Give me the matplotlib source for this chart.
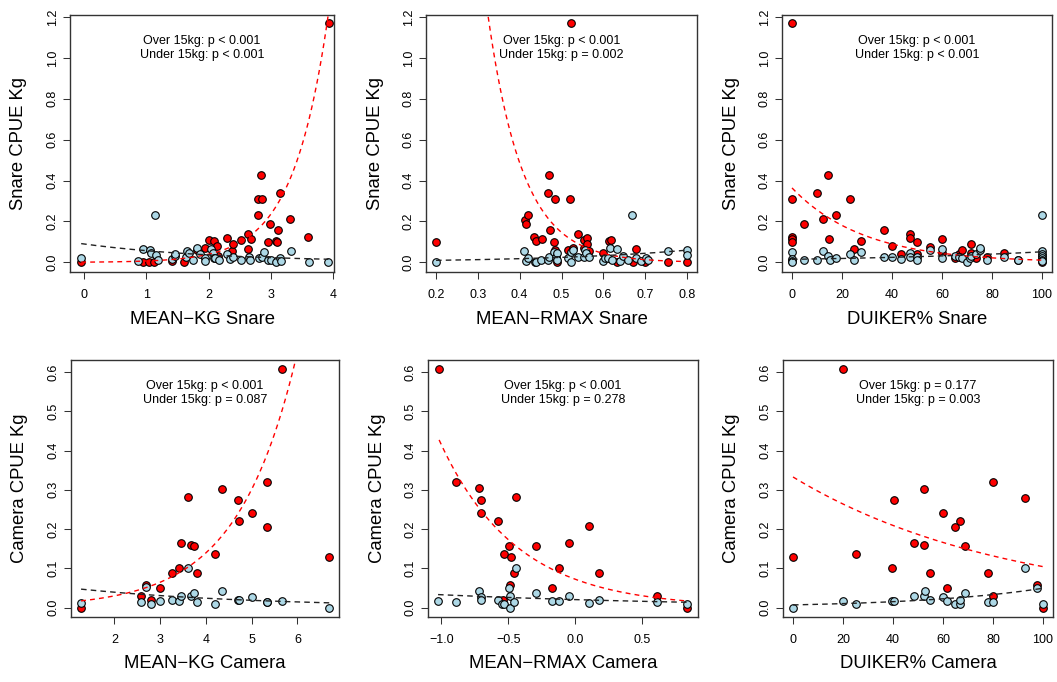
import numpy as np
import matplotlib.pyplot as plt

plt.rcParams["font.family"] = ["Liberation Sans", "DejaVu Sans"]

# ---- data ----
# MEAN-KG Snare
kg_snare_over_x = [-0.05, 0.95, 1.04, 1.13, 1.42, 1.61, 1.82, 1.95, 2.01, 2.09, 2.13, 2.15, 2.29, 2.38, 2.39,
                   2.52, 2.63, 2.64, 2.68, 2.79, 2.80, 2.84, 2.86, 2.95, 2.99, 3.08, 3.10, 3.12, 3.15, 3.31,
                   3.60, 3.94]
kg_snare_over_y = [0.0, 0.0, 0.0, 0.0, 0.008, 0.0, 0.06, 0.07, 0.11, 0.107, 0.08, 0.03, 0.118, 0.057, 0.09,
                   0.11, 0.14, 0.064, 0.115, 0.31, 0.23, 0.425, 0.31, 0.10, 0.19, 0.105, 0.098, 0.16, 0.34, 0.21,
                   0.125, 1.17]
kg_snare_under_x = [-0.05, 0.87, 0.94, 1.05, 1.07, 1.14, 1.16, 1.19, 1.42, 1.46, 1.46, 1.63, 1.66, 1.68, 1.75,
                    1.81, 1.87, 1.94, 1.95, 2.04, 2.07, 2.09, 2.11, 2.17, 2.29, 2.34, 2.40, 2.53, 2.65, 2.67,
                    2.82, 2.86, 2.89, 2.96, 3.01, 3.09, 3.15, 3.17, 3.32, 3.62, 3.93]
kg_snare_under_y = [0.023, 0.008, 0.067, 0.06, 0.045, 0.233, 0.038, 0.012, 0.016, 0.03, 0.043, 0.025, 0.056,
                    0.046, 0.013, 0.072, 0.04, 0.02, 0.007, 0.064, 0.046, 0.023, 0.023, 0.013, 0.043, 0.016,
                    0.025, 0.013, 0.026, 0.013, 0.023, 0.026, 0.05, 0.011, 0.01, 0.0, 0.023, 0.007, 0.057,
                    0.0, 0.0]

# MEAN-RMAX Snare
rmax_snare_over_x = [0.2, 0.413, 0.415, 0.42, 0.435, 0.44, 0.453, 0.468, 0.469, 0.473, 0.483, 0.484, 0.485,
                     0.49, 0.516, 0.52, 0.523, 0.528, 0.539, 0.553, 0.553, 0.56, 0.56, 0.566, 0.6, 0.614, 0.619,
                     0.633, 0.67, 0.677, 0.7, 0.754, 0.8]
rmax_snare_over_y = [0.10, 0.208, 0.19, 0.23, 0.125, 0.107, 0.115, 0.34, 0.425, 0.16, 0.10, 0.31, 0.062, 0.0,
                     0.06, 0.31, 1.17, 0.072, 0.14, 0.11, 0.072, 0.118, 0.089, 0.056, 0.046, 0.105, 0.108, 0.0,
                     0.0, 0.067, 0.0, 0.0, 0.0]
rmax_snare_under_x = [0.2, 0.41, 0.415, 0.42, 0.437, 0.44, 0.452, 0.467, 0.471, 0.483, 0.488, 0.49, 0.489,
                      0.515, 0.522, 0.528, 0.523, 0.54, 0.553, 0.555, 0.558, 0.566, 0.6, 0.604, 0.612, 0.617,
                      0.62, 0.633, 0.639, 0.648, 0.658, 0.668, 0.677, 0.691, 0.701, 0.706, 0.755, 0.8, 0.8]
rmax_snare_under_y = [0.0, 0.057, 0.007, 0.02, 0.0, 0.0, 0.013, 0.011, 0.026, 0.052, 0.026, 0.046, 0.011,
                      0.023, 0.049, 0.06, 0.0, 0.026, 0.025, 0.06, 0.046, 0.026, 0.007, 0.02, 0.02, 0.07, 0.011,
                      0.067, 0.007, 0.03, 0.011, 0.233, 0.023, 0.007, 0.02, 0.011, 0.056, 0.062, 0.036]

# DUIKER% Snare
duiker_snare_over_x = [0, 0, 0, 0, 0, 4.7, 9.8, 12.5, 14.4, 14.9, 17.6, 23, 24.6, 27.4, 36.6, 40, 43.6, 47.1,
                       47.1, 50, 50, 55.3, 60, 60, 65, 66.7, 68, 71.5, 71.5, 73.4, 77.9, 84.7, 90.3, 100]
duiker_snare_over_y = [1.17, 0.31, 0.125, 0.113, 0.10, 0.19, 0.34, 0.21, 0.425, 0.115, 0.233, 0.31, 0.066,
                       0.107, 0.16, 0.079, 0.043, 0.14, 0.118, 0.10, 0.043, 0.075, 0.113, 0.048, 0.02, 0.04,
                       0.06, 0.09, 0.046, 0.02, 0.028, 0.045, 0.01, 0.0]
duiker_snare_under_x = [0, 0, 0, 0, 4.7, 9.8, 12.5, 14.4, 15.2, 17.6, 23, 24.6, 27.4, 36.6, 40, 43.6, 47.1,
                        47.1, 50, 50, 55.3, 60, 60, 65, 66.7, 68, 69.9, 71.1, 71.5, 73.4, 75.2, 75.2, 77.9,
                        84.7, 90.3, 100, 100, 100, 100, 100, 100, 100]
duiker_snare_under_y = [0.052, 0.015, 0.007, 0.0, 0.01, 0.011, 0.057, 0.03, 0.013, 0.021, 0.04, 0.011, 0.049,
                        0.025, 0.025, 0.018, 0.044, 0.026, 0.026, 0.01, 0.062, 0.066, 0.023, 0.03, 0.026, 0.023,
                        0.003, 0.02, 0.03, 0.04, 0.06, 0.072, 0.013, 0.026, 0.013, 0.23, 0.055, 0.04, 0.03,
                        0.02, 0.01, 0.005]

# MEAN-KG Camera
kg_camera_over_x = [1.27, 2.57, 2.68, 2.81, 2.99, 3.26, 3.41, 3.45, 3.60, 3.68, 3.73, 3.80, 4.20, 4.35, 4.71,
                    4.73, 5.00, 5.33, 5.34, 5.67, 6.70]
kg_camera_over_y = [0.0, 0.03, 0.058, 0.02, 0.05, 0.087, 0.10, 0.165, 0.281, 0.159, 0.156, 0.088, 0.137, 0.303,
                    0.275, 0.221, 0.241, 0.321, 0.206, 0.608, 0.13]
kg_camera_under_x = [1.27, 2.57, 2.68, 2.81, 2.99, 3.26, 3.41, 3.45, 3.60, 3.68, 3.73, 3.80, 4.20, 4.35, 4.71,
                     4.73, 5.00, 5.33, 5.34, 5.67, 6.70]
kg_camera_under_y = [0.011, 0.015, 0.052, 0.009, 0.017, 0.02, 0.017, 0.03, 0.102, 0.03, 0.037, 0.015, 0.01,
                     0.043, 0.019, 0.02, 0.027, 0.015, 0.013, 0.016, 0.0]

# MEAN-RMAX Camera
rmax_camera_over_x = [-1.017, -0.893, -0.721, -0.704, -0.704, -0.579, -0.544, -0.532, -0.494, -0.49, -0.484,
                      -0.46, -0.44, -0.293, -0.173, -0.126, -0.049, 0.10, 0.178, 0.609, 0.83]
rmax_camera_over_y = [0.607, 0.321, 0.304, 0.274, 0.241, 0.22, 0.019, 0.137, 0.158, 0.058, 0.129, 0.088, 0.281,
                      0.157, 0.05, 0.10, 0.164, 0.207, 0.087, 0.03, 0.0]
rmax_camera_under_x = [-1.025, -0.893, -0.721, -0.704, -0.704, -0.579, -0.549, -0.532, -0.494, -0.49, -0.487,
                       -0.457, -0.44, -0.293, -0.173, -0.126, -0.049, 0.10, 0.178, 0.609, 0.83]
rmax_camera_under_y = [0.017, 0.014, 0.043, 0.027, 0.02, 0.02, 0.009, 0.009, 0.051, 0.03, 0.0, 0.015, 0.102,
                       0.036, 0.016, 0.017, 0.029, 0.011, 0.019, 0.015, 0.01]

# DUIKER% Camera
duiker_camera_over_x = [0, 20, 25.1, 39.5, 40.5, 48.3, 52.2, 52.3, 54.6, 60, 61.6, 64.7, 66.7, 68.7, 77.9,
                        79.9, 80.1, 92.8, 97.4, 100]
duiker_camera_over_y = [0.129, 0.608, 0.137, 0.10, 0.274, 0.164, 0.159, 0.302, 0.087, 0.241, 0.05, 0.206,
                        0.221, 0.156, 0.088, 0.321, 0.03, 0.28, 0.057, 0.0]
duiker_camera_under_x = [0, 20, 25.1, 39.5, 40.5, 48.3, 52.2, 52.6, 54.6, 60, 61.6, 64.7, 66.7, 66.7, 68.7,
                         77.9, 80.1, 92.8, 97.4, 100]
duiker_camera_under_y = [0.0, 0.016, 0.009, 0.017, 0.018, 0.029, 0.029, 0.043, 0.019, 0.026, 0.016, 0.01,
                         0.01, 0.02, 0.036, 0.015, 0.015, 0.102, 0.051, 0.01]

# fitted curves y = exp(a + b*x): (a, b) for over / under 15kg
fit_over = [(-6.76, 1.77), (4.08, -12.0), (-1.01, -0.035), (-5.05, 0.77), (-2.63, -1.75), (-1.1, -0.0116)]
fit_under = [(-2.41, -0.45), (-5.2, 2.98), (-4.2, 0.0124), (-2.74, -0.25), (-3.9, -0.48), (-4.99, 0.0198)]

p_over = ["p < 0.001", "p < 0.001", "p < 0.001", "p < 0.001", "p < 0.001", "p = 0.177"]
p_under = ["p < 0.001", "p = 0.002", "p < 0.001", "p = 0.087", "p = 0.278", "p = 0.003"]

x_labels = ["MEAN\u2212KG Snare", "MEAN\u2212RMAX Snare", "DUIKER% Snare",
            "MEAN\u2212KG Camera", "MEAN\u2212RMAX Camera", "DUIKER% Camera"]
y_labels = ["Snare CPUE Kg"] * 3 + ["Camera CPUE Kg"] * 3

x_ticks = [[0, 1, 2, 3, 4], [0.2, 0.3, 0.4, 0.5, 0.6, 0.7, 0.8], [0, 20, 40, 60, 80, 100],
           [2, 3, 4, 5, 6], [-1.0, -0.5, 0.0, 0.5], [0, 20, 40, 60, 80, 100]]
y_ticks_snare = [0.0, 0.2, 0.4, 0.6, 0.8, 1.0, 1.2]
y_ticks_camera = [0.0, 0.1, 0.2, 0.3, 0.4, 0.5, 0.6]

over_pts = [(kg_snare_over_x, kg_snare_over_y), (rmax_snare_over_x, rmax_snare_over_y),
            (duiker_snare_over_x, duiker_snare_over_y), (kg_camera_over_x, kg_camera_over_y),
            (rmax_camera_over_x, rmax_camera_over_y), (duiker_camera_over_x, duiker_camera_over_y)]
under_pts = [(kg_snare_under_x, kg_snare_under_y), (rmax_snare_under_x, rmax_snare_under_y),
             (duiker_snare_under_x, duiker_snare_under_y), (kg_camera_under_x, kg_camera_under_y),
             (rmax_camera_under_x, rmax_camera_under_y), (duiker_camera_under_x, duiker_camera_under_y)]

# ---- layout (pixel boxes: left, top, right, bottom) ----
W, H = 1057, 682
boxes = [(70, 15, 334, 272), (426, 15, 697, 272), (782, 15, 1052, 272),
         (71, 360, 339, 617), (428, 360, 698, 617), (783, 360, 1053, 617)]
xlims = [(-0.23, 4.02), (0.176, 0.824), (-4, 104), (1.05, 6.91), (-1.1, 0.915), (-4, 104)]

fig = plt.figure(figsize=(W / 100, H / 100), dpi=100)

for i in range(6):
    l, t, r, b = boxes[i]
    ax = fig.add_axes([l / W, 1 - b / H, (r - l) / W, (b - t) / H])
    w_px, h_px = r - l, b - t

    ox, oy = over_pts[i]
    ux, uy = under_pts[i]
    ax.scatter(ox, oy, s=30, c="red", edgecolors="black", linewidths=0.8, zorder=3)
    ax.scatter(ux, uy, s=30, c="lightblue", edgecolors="black", linewidths=0.8, zorder=3)

    xs = np.linspace(min(ox), max(ox), 300)
    a, k = fit_over[i]
    ax.plot(xs, np.exp(a + k * xs), color="red", lw=1, dashes=(3.5, 3), zorder=4)
    xs = np.linspace(min(ux), max(ux), 300)
    a, k = fit_under[i]
    ax.plot(xs, np.exp(a + k * xs), color="#222222", lw=1, dashes=(4, 3), zorder=4)

    ax.set_xlim(*xlims[i])
    if i < 3:
        ax.set_ylim(-0.047, 1.21)
        ax.set_yticks(y_ticks_snare)
    else:
        ax.set_ylim(-0.024, 0.631)
        ax.set_yticks(y_ticks_camera)
    ax.set_xticks(x_ticks[i])

    ax.tick_params(direction="out", length=5, width=0.75, labelsize=9, color="#333333")
    ax.tick_params(axis="x", pad=7)
    ax.tick_params(axis="y", pad=3, labelrotation=90)
    for lab in ax.get_yticklabels():
        lab.set_va("center")
    for sp in ax.spines.values():
        sp.set_linewidth(1)
        sp.set_color("#333333")

    ax.set_xlabel(x_labels[i], fontsize=13.3)
    ax.xaxis.set_label_coords(0.5, -47 / h_px)
    ax.xaxis.label.set_va("center")
    ax.set_ylabel(y_labels[i], fontsize=13.3)
    ax.yaxis.set_label_coords(-51 / w_px, 0.5)
    ax.yaxis.label.set_va("center")

    ax.text(0.5, 1 - 26 / h_px, "Over 15kg: " + p_over[i], transform=ax.transAxes,
            ha="center", va="center", fontsize=9)
    ax.text(0.5, 1 - 40 / h_px, "Under 15kg: " + p_under[i], transform=ax.transAxes,
            ha="center", va="center", fontsize=9)

fig.savefig("out.png", dpi=100, facecolor="white")
